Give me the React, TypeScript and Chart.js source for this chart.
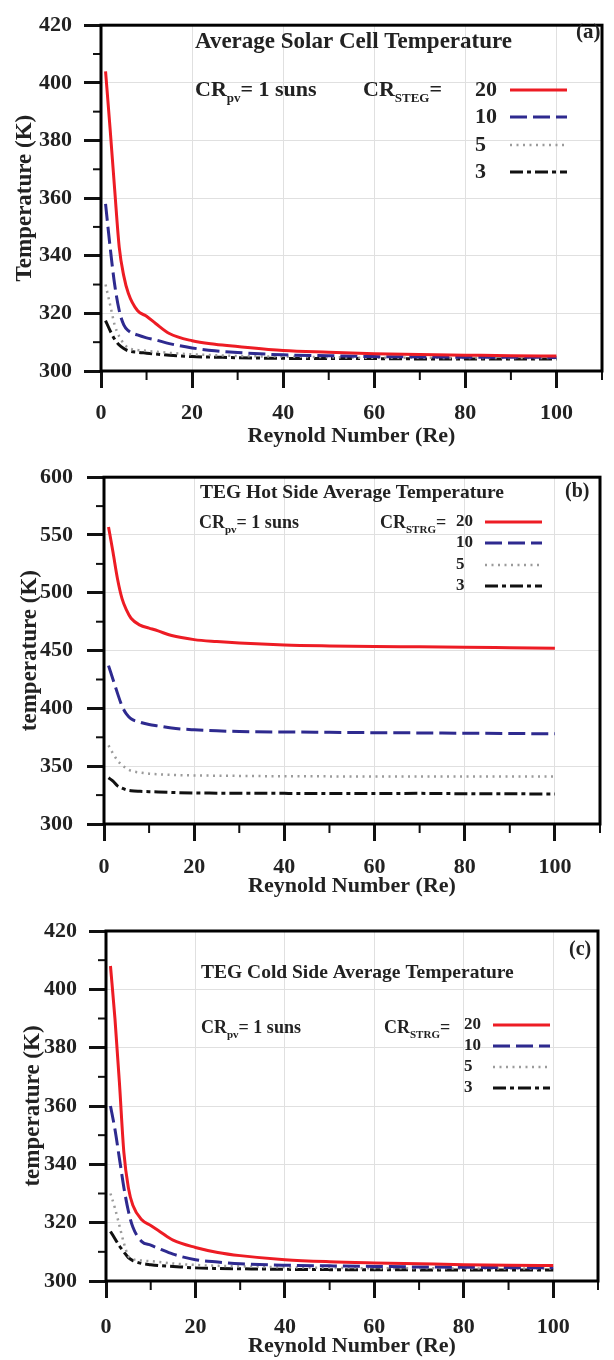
import React, { useEffect, useRef } from "react";
import { Chart, registerables } from "chart.js";
Chart.register(...registerables);

const FONT = '"Liberation Serif", "Times New Roman", serif';

// Reynolds numbers (x values)
const RE = [1, 2, 3, 4, 5, 6, 8, 10, 12, 15, 20, 25, 30, 40, 50, 60, 70, 80, 90, 100];

// Legend entries (CR_STEG)
const CR_LABELS = ["20", "10", "5", "3"];

// (a) Average solar cell temperature
const A_CR20 = [404, 384, 363, 343, 333, 327, 321, 319, 316.5, 313, 310.5, 309.3, 308.5, 307.1, 306.5, 306, 305.7, 305.5, 305.3, 305.2];
const A_CR10 = [358, 343, 330, 321, 316, 314, 312.5, 311.5, 310.8, 309.5, 308, 307, 306.4, 305.6, 305.3, 305, 304.9, 304.8, 304.8, 304.7];
const A_CR5 = [330, 323, 316, 312, 309.5, 308, 307.3, 307, 306.7, 306.3, 305.8, 305.5, 305.2, 305, 304.8, 304.6, 304.6, 304.5, 304.5, 304.5];
const A_CR3 = [317.5, 314, 311, 309, 307.8, 307, 306.5, 306.2, 305.9, 305.5, 305, 304.8, 304.6, 304.4, 304.3, 304.3, 304.2, 304.2, 304.2, 304.2];

// (b) TEG hot side average temperature
const B_CR20 = [557, 535, 512, 495, 485, 478, 472, 469.5, 467, 463, 459.5, 457.8, 456.5, 454.8, 454, 453.5, 453.3, 453, 452.5, 452];
const B_CR10 = [437, 425, 413, 402, 395, 391, 388, 386, 384.8, 383, 381.5, 380.6, 380, 379.6, 379.3, 379, 378.8, 378.5, 378.3, 378];
const B_CR5 = [368, 361, 355, 351, 348, 346, 344.5, 343.5, 343, 342.5, 342, 341.8, 341.6, 341.3, 341.2, 341, 341, 341, 341, 341];
const B_CR3 = [340, 337, 333, 331, 329.5, 328.8, 328.3, 328, 327.7, 327.3, 326.8, 326.7, 326.6, 326.5, 326.4, 326.3, 326.5, 326.2, 326.1, 326];

// (c) TEG cold side average temperature
const C_CR20 = [408, 390, 368, 344, 332, 326, 321, 319, 317, 314, 311.5, 309.8, 308.7, 307.3, 306.6, 306.2, 305.9, 305.6, 305.4, 305.3];
const C_CR10 = [360, 352, 342, 332, 324, 318.5, 313.5, 312.3, 311, 309.2, 307.3, 306.5, 305.9, 305.4, 305.2, 305, 304.8, 304.7, 304.6, 304.5];
const C_CR5 = [330, 325, 319, 313, 308.5, 307.5, 307, 306.8, 306.5, 306, 305.5, 305.2, 305, 304.7, 304.5, 304.4, 304.4, 304.3, 304.3, 304.3];
const C_CR3 = [317, 314.5, 312, 310, 308, 307, 306, 305.6, 305.3, 305, 304.5, 304.3, 304.2, 304, 303.9, 303.9, 303.8, 303.8, 303.8, 303.8];

const SERIES_STYLE = [
  { color: "#ed1c24", dash: [] as number[], width: 3 },
  { color: "#2e2a8f", dash: [17, 6], width: 3 },
  { color: "#9b9b9b", dash: [2, 4.5], width: 2.5 },
  { color: "#111111", dash: [13, 4, 4, 4], width: 3 },
];

const PANELS = [
  {
    top: 0, height: 450,
    area: { left: 101, right: 605, top: 16, bottom: 371 },
    yMin: 300, yMax: 420, yStep: 10, yMajor: 20,
    yTitle: "Temperature (K)",
    xTickPad: 12, yTickPad: 12, yTitlePad: 11,
    series: [A_CR20, A_CR10, A_CR5, A_CR3],
    decor: {
      title: "Average Solar Cell Temperature", titleX: 195, titleY: 42, titleSize: 23,
      tag: "(a)", tagX: 576, tagY: 33, tagSize: 21,
      crX: 195, crY: 90, crsX: 363, crsY: 90, crsSub: "STEG", crSize: 22,
      legX: 475, legY: [90, 117, 145, 172], legLine: [510, 567], legSize: 22,
    },
  },
  {
    top: 450, height: 450,
    area: { left: 104, right: 600, top: 24, bottom: 374 },
    yMin: 300, yMax: 600, yStep: 25, yMajor: 50,
    yTitle: "temperature (K)",
    xTickPad: 13, yTickPad: 14, yTitlePad: 16,
    series: [B_CR20, B_CR10, B_CR5, B_CR3],
    decor: {
      title: "TEG Hot Side Average Temperature", titleX: 200, titleY: 43, titleSize: 19.5,
      tag: "(b)", tagX: 565, tagY: 42, tagSize: 20,
      crX: 199, crY: 73, crsX: 380, crsY: 73, crsSub: "STRG", crSize: 18,
      legX: 456, legY: [72, 93, 115, 136], legLine: [485, 542], legSize: 17,
    },
  },
  {
    top: 900, height: 460,
    area: { left: 106, right: 605, top: 31, bottom: 381 },
    yMin: 300, yMax: 420, yStep: 10, yMajor: 20,
    yTitle: "temperature (K)",
    xTickPad: 16, yTickPad: 12, yTitlePad: 19,
    series: [C_CR20, C_CR10, C_CR5, C_CR3],
    decor: {
      title: "TEG Cold Side Average Temperature", titleX: 201, titleY: 73, titleSize: 19.5,
      tag: "(c)", tagX: 569, tagY: 50, tagSize: 20,
      crX: 201, crY: 128, crsX: 384, crsY: 128, crsSub: "STRG", crSize: 18,
      legX: 464, legY: [125, 146, 167, 188], legLine: [493, 550], legSize: 17,
    },
  },
];

const X_MINOR = [10, 30, 50, 70, 90, 110];

function drawSub(ctx: CanvasRenderingContext2D, x: number, y: number, main: string, sub: string, rest: string, size: number) {
  ctx.font = `bold ${size}px ${FONT}`;
  ctx.fillText(main, x, y);
  let w = ctx.measureText(main).width;
  const ss = Math.round(size * 0.6);
  ctx.font = `bold ${ss}px ${FONT}`;
  ctx.fillText(sub, x + w, y + size * 0.4);
  w += ctx.measureText(sub).width;
  ctx.font = `bold ${size}px ${FONT}`;
  ctx.fillText(rest, x + w, y);
}

const decorPlugin = {
  id: "decor",
  afterDraw(chart: any, _args: any, opts: any) {
    const { ctx, chartArea: ca, scales } = chart;
    const xs = scales.x, ys = scales.y;
    ctx.save();
    ctx.strokeStyle = "#111";
    ctx.lineWidth = 2;
    ctx.setLineDash([]);
    // minor ticks
    for (const v of X_MINOR) {
      const px = xs.getPixelForValue(v);
      ctx.beginPath(); ctx.moveTo(px, ca.bottom); ctx.lineTo(px, ca.bottom + 9); ctx.stroke();
    }
    for (let v = opts.yMin + opts.yStep; v < opts.yMax; v += opts.yStep) {
      if ((v - opts.yMin) % opts.yMajor === 0) continue;
      const py = ys.getPixelForValue(v);
      ctx.beginPath(); ctx.moveTo(ca.left - 8, py); ctx.lineTo(ca.left, py); ctx.stroke();
    }
    // frame
    ctx.lineWidth = 3;
    ctx.strokeStyle = "#000";
    ctx.strokeRect(ca.left, ca.top, ca.right - ca.left, ca.bottom - ca.top);

    const d = opts.decor;
    ctx.fillStyle = "#222";
    ctx.textBaseline = "middle";
    ctx.textAlign = "left";
    ctx.font = `bold ${d.titleSize}px ${FONT}`;
    ctx.fillText(d.title, d.titleX, d.titleY);
    ctx.font = `bold ${d.tagSize}px ${FONT}`;
    ctx.fillText(d.tag, d.tagX, d.tagY);
    drawSub(ctx, d.crX, d.crY, "CR", "pv", "= 1 suns", d.crSize);
    drawSub(ctx, d.crsX, d.crsY, "CR", d.crsSub, "=", d.crSize);

    chart.data.datasets.forEach((ds: any, i: number) => {
      const y = d.legY[i];
      ctx.fillStyle = "#222";
      ctx.font = `bold ${d.legSize}px ${FONT}`;
      ctx.fillText(ds.label, d.legX, y);
      ctx.strokeStyle = ds.borderColor;
      ctx.lineWidth = ds.borderWidth;
      ctx.setLineDash(ds.borderDash || []);
      ctx.beginPath(); ctx.moveTo(d.legLine[0], y); ctx.lineTo(d.legLine[1], y); ctx.stroke();
    });
    ctx.restore();
  },
};

function Panel({ p }: { p: any }) {
  const ref = useRef<HTMLCanvasElement>(null);
  useEffect(() => {
    if (!ref.current) return;
    const tickFont = { family: FONT, size: 22, weight: "bold" as const, lineHeight: 1.2 };
    const yTitleFont = { family: FONT, size: 23, weight: "bold" as const, lineHeight: 1.2 };
    const chart = new Chart(ref.current, {
      type: "line",
      data: {
        datasets: p.series.map((vals: number[], i: number) => ({
          label: CR_LABELS[i],
          data: RE.map((x, k) => ({ x, y: vals[k] })),
          borderColor: SERIES_STYLE[i].color,
          borderDash: SERIES_STYLE[i].dash,
          borderWidth: SERIES_STYLE[i].width,
          pointRadius: 0,
          fill: false,
          cubicInterpolationMode: "monotone" as const,
        })),
      },
      options: {
        animation: false,
        responsive: false,
        devicePixelRatio: 1,
        layout: { padding: { left: 0, top: p.area.top, right: 614 - p.area.right, bottom: 0 } },
        plugins: {
          legend: { display: false },
          tooltip: { enabled: false },
          decor: { decor: p.decor, yMin: p.yMin, yMax: p.yMax, yStep: p.yStep, yMajor: p.yMajor },
        } as any,
        scales: {
          x: {
            type: "linear",
            min: 0,
            max: 110,
            afterFit: (s: any) => { s.height = p.height - p.area.bottom; },
            border: { display: false },
            grid: {
              color: (c: any) => {
                const v = c.tick ? c.tick.value : 0;
                return v % 20 === 0 && v > 0 && v <= 100 ? "#e0e0e0" : "rgba(0,0,0,0)";
              },
              lineWidth: 1,
              drawTicks: true,
              tickLength: 17,
              tickWidth: 3,
              tickColor: (c: any) => {
                const v = c.tick ? c.tick.value : 0;
                return v % 20 === 0 && v <= 100 ? "#111" : "rgba(0,0,0,0)";
              },
            },
            ticks: {
              stepSize: 10,
              autoSkip: false,
              maxRotation: 0,
              minRotation: 0,
              padding: p.xTickPad,
              color: "#222",
              font: tickFont,
              callback: (v: any) => (v % 20 === 0 && v <= 100 ? String(v) : ""),
            },
            title: {
              display: true,
              text: "Reynold Number (Re)",
              color: "#222",
              font: tickFont,
              padding: 0,
            },
          },
          y: {
            type: "linear",
            min: p.yMin,
            max: p.yMax,
            afterFit: (s: any) => { s.width = p.area.left; },
            border: { display: false },
            grid: {
              color: (c: any) => {
                const v = c.tick ? c.tick.value : p.yMin;
                return (v - p.yMin) % p.yMajor === 0 && v > p.yMin && v < p.yMax ? "#e0e0e0" : "rgba(0,0,0,0)";
              },
              lineWidth: 1,
              drawTicks: true,
              tickLength: 17,
              tickWidth: 3,
              tickColor: (c: any) => {
                const v = c.tick ? c.tick.value : p.yMin;
                return (v - p.yMin) % p.yMajor === 0 ? "#111" : "rgba(0,0,0,0)";
              },
            },
            ticks: {
              stepSize: p.yStep,
              autoSkip: false,
              padding: p.yTickPad,
              color: "#222",
              font: tickFont,
              callback: (v: any) => ((v - p.yMin) % p.yMajor === 0 ? String(v) : ""),
            },
            title: {
              display: true,
              text: p.yTitle,
              color: "#222",
              font: yTitleFont,
              padding: { top: p.yTitlePad, bottom: 0 },
            },
          },
        },
      },
      plugins: [decorPlugin],
    } as any);
    return () => chart.destroy();
  }, [p]);
  return (
    <canvas
      ref={ref}
      width={614}
      height={p.height}
      style={{ position: "absolute", left: 0, top: p.top, width: 614, height: p.height }}
    />
  );
}

export default function App() {
  return (
    <div style={{ position: "absolute", left: 0, top: 0, width: 614, height: 1360, background: "#fff", overflow: "hidden" }}>
      {PANELS.map((p, i) => (
        <Panel key={i} p={p} />
      ))}
    </div>
  );
}
